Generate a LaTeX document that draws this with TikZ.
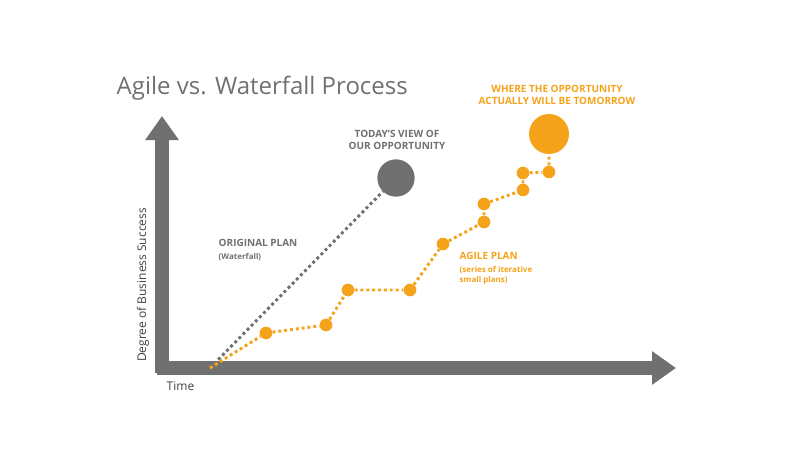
\documentclass[tikz,border=0pt]{standalone}
\usepackage{fontspec}
\setmainfont{Open Sans}
\usetikzlibrary{arrows.meta}
\definecolor{agile}{HTML}{F5A31A}
\definecolor{wgray}{HTML}{707070}
\tikzset{
  dot/.style={circle,fill=agile,inner sep=0pt,minimum size=9.5pt},
  path_dots/.style={line width=2.2pt,dash pattern=on 2.2pt off 2.2pt},
  lbl/.style={font=\bfseries\fontsize{7.5}{9}\selectfont,align=left,anchor=west},
}
\begin{document}
\begin{tikzpicture}[x=0.75pt,y=-0.75pt]
\useasboundingbox (0,0) rectangle (800,460);
\node[anchor=west,text=wgray,font=\fontsize{18}{21}\selectfont] (title) at (112,88) {Agile vs. Waterfall Process};
% axes
\coordinate (o) at (162,368);
\coordinate (top) at (162,116);
\coordinate (right) at (676,368);
\draw[wgray,line width=10pt,-{Triangle[length=18pt,width=24pt]}] (162,373) -- (top);
\draw[wgray,line width=10pt,-{Triangle[length=18pt,width=24pt]}] (157,368) -- (right);
\node[rotate=90,text=black!75,font=\fontsize{9}{11}\selectfont] (ylab) at (143,285) {Degree of Business Success};
\node[anchor=west,text=black!75,font=\fontsize{9}{11}\selectfont] (xlab) at (162,386) {Time};
% waterfall
\coordinate (start) at (210,368);
\node[circle,fill=wgray,inner sep=0pt,minimum size=28pt] (today) at (396,178) {};
\draw[wgray,path_dots] (start) -- (today);
\node[text=wgray,font=\bfseries\fontsize{7.5}{9}\selectfont,align=center] (todaytxt) at (397,140) {TODAY'S VIEW OF\\OUR OPPORTUNITY};
\node[lbl,text=wgray] (orig) at (214,243) {ORIGINAL PLAN};
\node[lbl,text=wgray,font=\bfseries\fontsize{6}{7.5}\selectfont] (origsub) at (214,257) {(Waterfall)};
% agile
\node[dot] (a1) at (266,333) {};
\node[dot] (a2) at (326,325) {};
\node[dot] (a3) at (348,290) {};
\node[dot] (a4) at (410,290) {};
\node[dot] (a5) at (443,244) {};
\node[dot] (a6) at (484,222) {};
\node[dot] (a7) at (484,204) {};
\node[dot] (a8) at (523,190) {};
\node[dot] (a9) at (523,173) {};
\node[dot] (a10) at (549,172) {};
\node[circle,fill=agile,inner sep=0pt,minimum size=30pt] (tomorrow) at (549,134) {};
\draw[agile,path_dots] (start) -- (a1) -- (a2) -- (a3) -- (a4) -- (a5) -- (a6) -- (a7) -- (a8) -- (a9) -- (a10) -- (tomorrow);
\node[text=agile,font=\bfseries\fontsize{7.5}{9}\selectfont,align=center] (tomtxt) at (557,95) {WHERE THE OPPORTUNITY\\ACTUALLY WILL BE TOMORROW};
\node[lbl,text=agile] (agl) at (455,256) {AGILE PLAN};
\node[lbl,text=agile,font=\bfseries\fontsize{6}{7.5}\selectfont] (aglsub) at (455,275) {(series of iterative\\small plans)};
\end{tikzpicture}
\end{document}
